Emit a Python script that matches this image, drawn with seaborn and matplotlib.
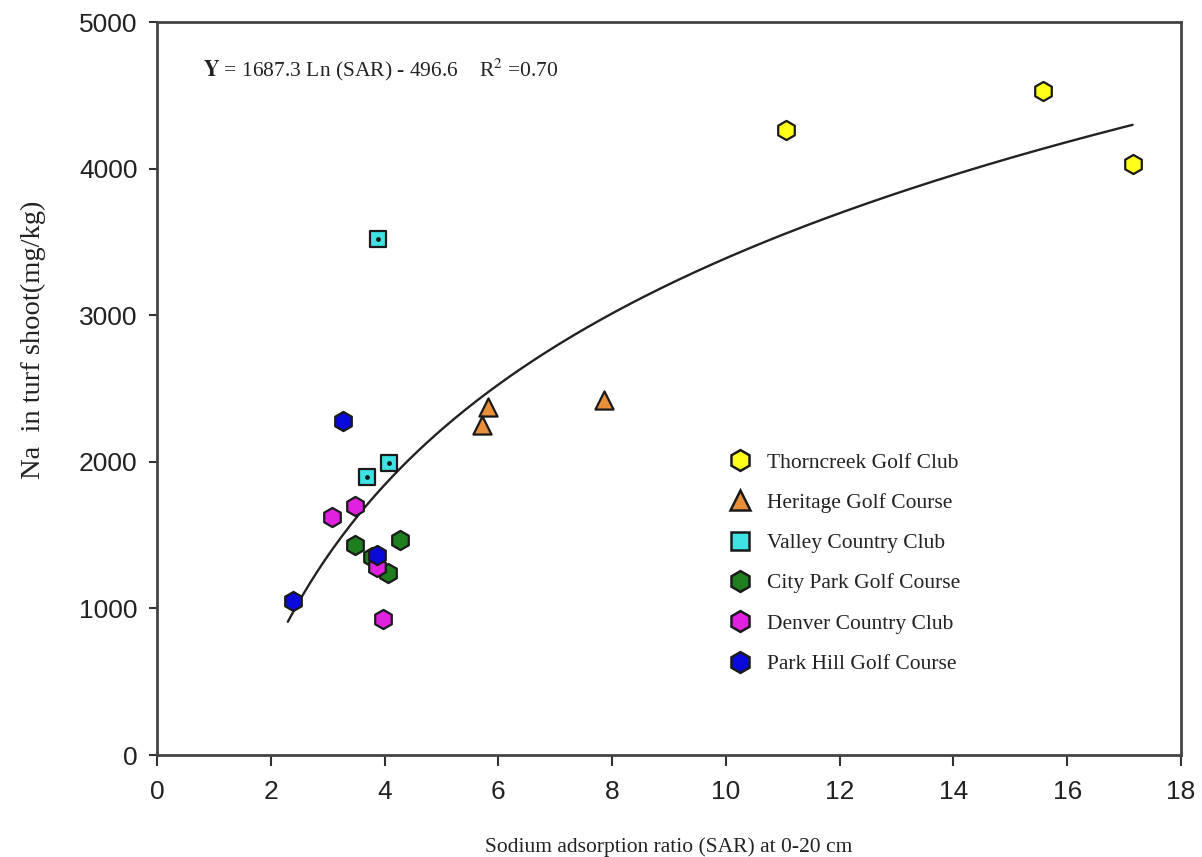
import numpy as np
import pandas as pd
import matplotlib
matplotlib.use("Agg")
import matplotlib.pyplot as plt
from matplotlib.lines import Line2D
import seaborn as sns

# Sodium adsorption ratio (x) and Na in turf shoot (y) per course
thorncreek_sar = [11.05, 15.57, 17.15]
thorncreek_na = [4263, 4529, 4031]
heritage_sar = [5.82, 5.71, 7.86]
heritage_na = [2374, 2251, 2421]
valley_sar = [3.88, 3.69, 4.08]
valley_na = [3520, 1896, 1992]
citypark_sar = [3.48, 4.27, 4.06, 3.78]
citypark_na = [1432, 1467, 1241, 1351]
denver_sar = [3.08, 3.48, 3.87, 3.97]
denver_na = [1623, 1698, 1282, 928]
parkhill_sar = [3.27, 3.87, 2.39]
parkhill_na = [2278, 1364, 1050]

courses = ["Thorncreek Golf Club", "Heritage Golf Course", "Valley Country Club",
           "City Park Golf Course", "Denver Country Club", "Park Hill Golf Course"]
sar_values = [thorncreek_sar, heritage_sar, valley_sar, citypark_sar, denver_sar, parkhill_sar]
na_values = [thorncreek_na, heritage_na, valley_na, citypark_na, denver_na, parkhill_na]

# Logarithmic fit: Y = a ln(SAR) + b
fit_a, fit_b = 1687.3, -496.6
fit_range = (2.3, 17.15)

x_ticks = [0, 2, 4, 6, 8, 10, 12, 14, 16, 18]
y_ticks = [0, 1000, 2000, 3000, 4000, 5000]

colors = {"Thorncreek Golf Club": "#FFFF1A", "Heritage Golf Course": "#E8903A",
          "Valley Country Club": "#3FE3E3", "City Park Golf Course": "#1F7F1F",
          "Denver Country Club": "#E022E0", "Park Hill Golf Course": "#0A0ADC"}
markers = {"Thorncreek Golf Club": "h", "Heritage Golf Course": "^",
           "Valley Country Club": "s", "City Park Golf Course": "h",
           "Denver Country Club": "h", "Park Hill Golf Course": "h"}
sizes = {"Thorncreek Golf Club": 190, "Heritage Golf Course": 170,
         "Valley Country Club": 140, "City Park Golf Course": 190,
         "Denver Country Club": 190, "Park Hill Golf Course": 190}

rows = []
for name, xs, ys in zip(courses, sar_values, na_values):
    for x, y in zip(xs, ys):
        rows.append({"course": name, "sar": x, "na": y})
df = pd.DataFrame(rows)

sns.set_style("ticks")
plt.rcParams["font.family"] = ["Liberation Serif", "DejaVu Serif"]
plt.rcParams["mathtext.fontset"] = "stix"

fig = plt.figure(figsize=(12.02, 8.57), dpi=100)
ax = fig.add_axes([0.1306, 0.119, 0.8519, 0.8553])

for name in courses:
    sub = df[df["course"] == name]
    sns.scatterplot(data=sub, x="sar", y="na", ax=ax, color=colors[name],
                    marker=markers[name], s=sizes[name], edgecolor="#1a1a1a",
                    linewidth=1.6, legend=False, zorder=3)
    if name == "Valley Country Club":
        ax.scatter(sub["sar"], sub["na"], s=6, color="#1a1a1a", zorder=4)

xf = np.linspace(fit_range[0], fit_range[1], 300)
sns.lineplot(x=xf, y=fit_a * np.log(xf) + fit_b, ax=ax, color="#222222",
             linewidth=1.7, zorder=2)

ax.set_xlim(0, 18)
ax.set_ylim(0, 5000)
ax.set_xticks(x_ticks)
ax.set_yticks(y_ticks)
ax.set_xticklabels([str(t) for t in x_ticks], family="Liberation Sans", fontsize=19,
                   color="#222222")
ax.set_yticklabels([str(t) for t in y_ticks], family="Liberation Sans", fontsize=19,
                   color="#222222")
ax.tick_params(axis="x", direction="out", length=8, width=1.5, color="#333333", pad=10)
ax.tick_params(axis="y", direction="out", length=6, width=1.5, color="#333333", pad=8)

for side in ["left", "right", "top", "bottom"]:
    ax.spines[side].set_visible(True)
    ax.spines[side].set_linewidth(2.0)
    ax.spines[side].set_color("#444444")

ax.set_xlabel("Sodium adsorption ratio (SAR) at 0-20 cm", fontsize=15.5, labelpad=24,
              color="#222222")
ax.set_ylabel("Na  in turf shoot(mg/kg)", fontsize=20.5, color="#222222")
ax.yaxis.set_label_coords(-0.108, 0.567)

ax.text(0.045, 0.935, r"$\mathbf{Y}$" + " = 1687.3 Ln (SAR) - 496.6    R" + r"$^{2}$" + " =0.70",
        transform=ax.transAxes, fontsize=15.5, va="center", ha="left", color="#222222")

handles = [Line2D([0], [0], linestyle="none", marker=markers[n],
                  markersize=15 if markers[n] != "s" else 12.5,
                  markerfacecolor=colors[n], markeredgecolor="#1a1a1a", markeredgewidth=1.8)
           for n in courses]
leg = ax.legend(handles, courses, loc="upper left", bbox_to_anchor=(0.540, 0.4245),
                frameon=False, fontsize=15.5, labelspacing=0.94, handletextpad=0.25,
                borderaxespad=0)
for t in leg.get_texts():
    t.set_color("#222222")

fig.savefig("out.png", dpi=100)
